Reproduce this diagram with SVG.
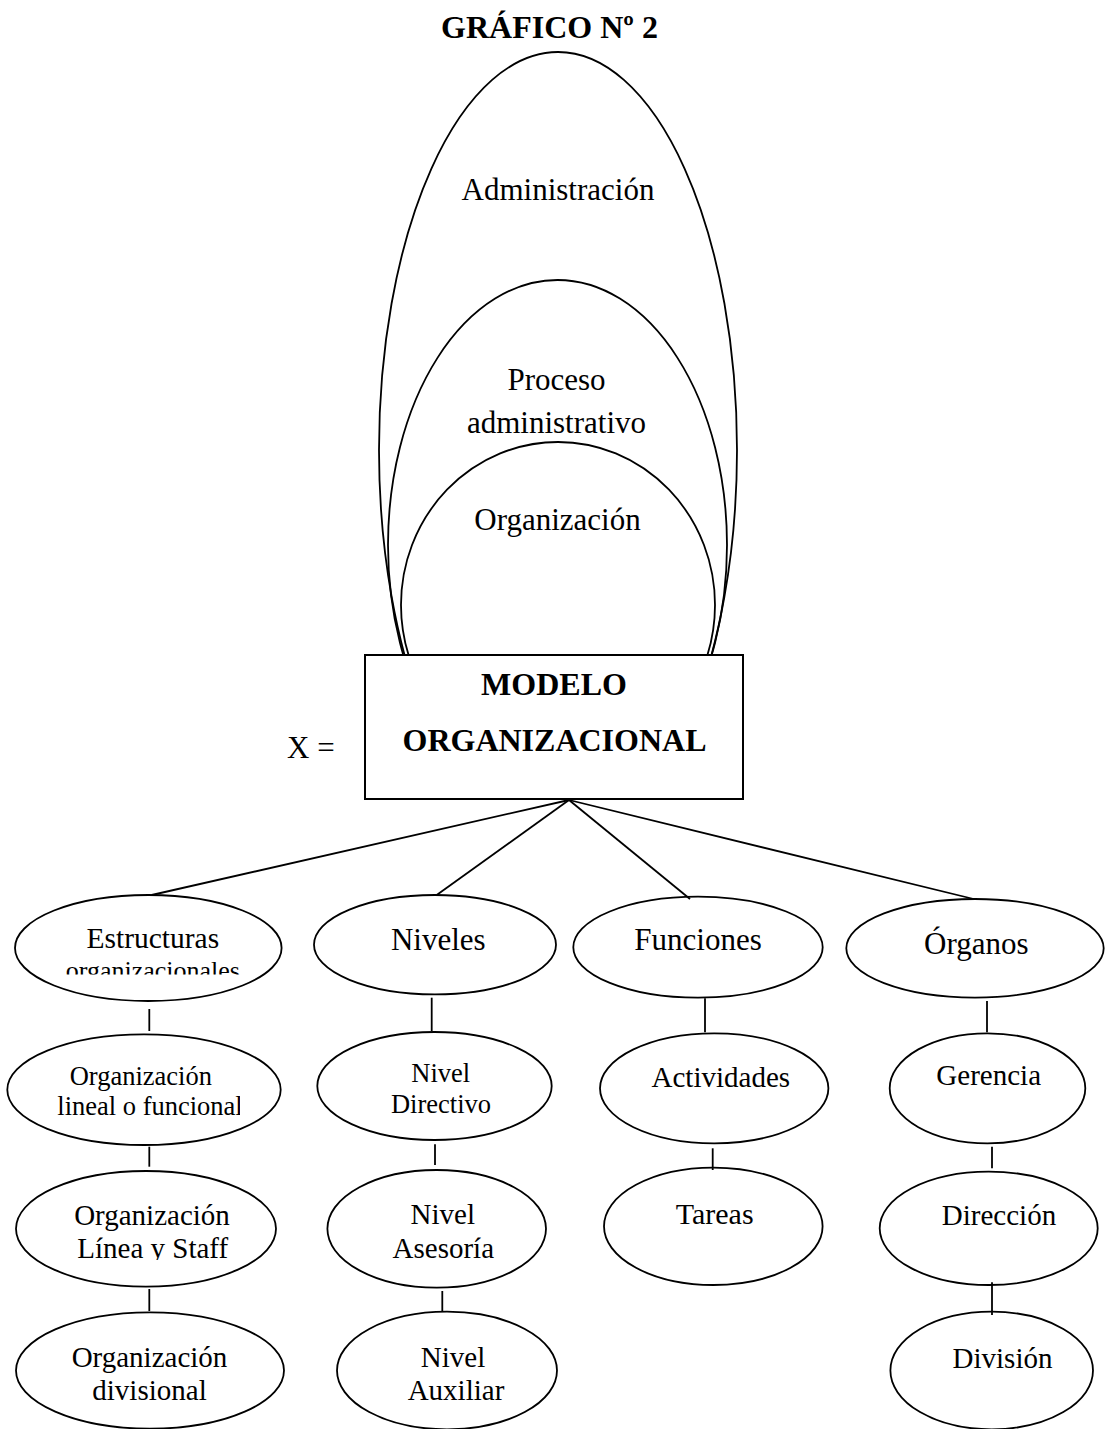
<svg xmlns="http://www.w3.org/2000/svg" width="1107" height="1429" viewBox="0 0 1107 1429">
  <style>
    text { font-family: "Liberation Serif", "Times New Roman", serif; fill: #000; text-anchor: middle; }
    .b { font-weight: bold; font-size: 32px; }
    .t31 { font-size: 31px; }
    .t29 { font-size: 29px; }
    .t26 { font-size: 26.5px; }
    .shape { fill: none; stroke: #000; stroke-width: 1.8; }
    .conn line { stroke: #000; stroke-width: 1.8; }
  </style>
  <defs>
    <clipPath id="clipTop"><rect x="0" y="0" width="1107" height="655"/></clipPath>
    <clipPath id="clipEst"><rect x="0" y="900" width="300" height="74.5"/></clipPath>
    <clipPath id="clipLin"><rect x="0" y="1040" width="240" height="100"/></clipPath>
    <clipPath id="clipStaff"><rect x="0" y="1180" width="300" height="80"/></clipPath>
  </defs>
  <rect width="1107" height="1429" fill="#fff"/>

  <text id="title" class="b" x="549.5" y="38">GRÁFICO Nº 2</text>

  <g id="administracion">
    <ellipse class="shape" cx="558" cy="450" rx="179" ry="398" clip-path="url(#clipTop)"/>
    <text class="t31" x="558" y="200">Administración</text>
  </g>
  <g id="proceso-administrativo">
    <ellipse class="shape" cx="557.5" cy="545" rx="169.5" ry="265" clip-path="url(#clipTop)"/>
    <text class="t31" x="556.5" y="390">Proceso</text>
    <text class="t31" x="556.5" y="433">administrativo</text>
  </g>
  <g id="organizacion">
    <ellipse class="shape" cx="558" cy="605" rx="157" ry="163" clip-path="url(#clipTop)"/>
    <text class="t31" x="557.5" y="530">Organización</text>
  </g>

  <g id="modelo-organizacional">
    <rect x="365" y="655" width="378" height="144" fill="#fff" stroke="#000" stroke-width="2"/>
    <text class="b" x="554" y="695">MODELO</text>
    <text class="b" x="554.5" y="751">ORGANIZACIONAL</text>
  </g>
  <text id="x-eq" class="t31" x="287" y="758" style="text-anchor:start">X =</text>

  <g id="connectors" class="conn">
    <line x1="569" y1="800" x2="151.7" y2="895"/>
    <line x1="569" y1="800" x2="436.7" y2="895"/>
    <line x1="569" y1="800" x2="690" y2="899"/>
    <line x1="569" y1="800" x2="973.7" y2="899"/>
    <line x1="149.3" y1="1009" x2="149.3" y2="1031"/>
    <line x1="149.3" y1="1146.7" x2="149.3" y2="1166.7"/>
    <line x1="149.3" y1="1289" x2="149.3" y2="1311"/>
    <line x1="431.7" y1="997.7" x2="431.7" y2="1031"/>
    <line x1="435" y1="1144.3" x2="435" y2="1165"/>
    <line x1="442.3" y1="1291" x2="442.3" y2="1312"/>
    <line x1="705" y1="998.3" x2="705" y2="1032.3"/>
    <line x1="712.7" y1="1148.3" x2="712.7" y2="1170"/>
    <line x1="987" y1="1001" x2="987" y2="1032.3"/>
    <line x1="992" y1="1146.7" x2="992" y2="1168.3"/>
    <line x1="992" y1="1282.3" x2="992" y2="1315"/>
  </g>

  <g id="estructuras">
    <ellipse class="shape" cx="148.3" cy="948" rx="133.3" ry="53"/>
    <text x="152.8" y="947.7" style="font-size:29.5px">Estructuras</text>
    <text x="152.8" y="978.5" style="font-size:26px" clip-path="url(#clipEst)">organizacionales</text>
  </g>
  <g id="niveles">
    <ellipse class="shape" cx="435" cy="944.7" rx="121" ry="49.7"/>
    <text class="t31" x="438.3" y="950">Niveles</text>
  </g>
  <g id="funciones">
    <ellipse class="shape" cx="698" cy="947.2" rx="124.7" ry="50.5"/>
    <text class="t31" x="698" y="950">Funciones</text>
  </g>
  <g id="organos">
    <ellipse class="shape" cx="975" cy="948.3" rx="128.7" ry="49.3"/>
    <text class="t31" x="976.3" y="954.3">Órganos</text>
  </g>

  <g id="org-lineal">
    <ellipse class="shape" cx="144" cy="1089.7" rx="136.7" ry="55.3"/>
    <text class="t26" x="140.8" y="1085">Organización</text>
    <text class="t26" x="150" y="1115" clip-path="url(#clipLin)">lineal o funcional</text>
  </g>
  <g id="nivel-directivo">
    <ellipse class="shape" cx="434.5" cy="1086" rx="117.2" ry="54"/>
    <text class="t26" x="440.8" y="1082.3">Nivel</text>
    <text class="t26" x="441" y="1113.3">Directivo</text>
  </g>
  <g id="actividades">
    <ellipse class="shape" cx="714.2" cy="1088.3" rx="114.2" ry="55"/>
    <text class="t29" x="720.8" y="1086.7">Actividades</text>
  </g>
  <g id="gerencia">
    <ellipse class="shape" cx="987.5" cy="1088.3" rx="97.8" ry="55"/>
    <text class="t29" x="988.7" y="1085">Gerencia</text>
  </g>

  <g id="org-linea-staff">
    <ellipse class="shape" cx="146" cy="1228.8" rx="130" ry="57.8"/>
    <text class="t29" x="152" y="1225">Organización</text>
    <text class="t29" x="152.7" y="1257.7" clip-path="url(#clipStaff)">Línea y Staff</text>
  </g>
  <g id="nivel-asesoria">
    <ellipse class="shape" cx="436.7" cy="1228.8" rx="109.3" ry="58.8"/>
    <text class="t29" x="442.8" y="1224.3">Nivel</text>
    <text class="t29" x="443.3" y="1257.7">Asesoría</text>
  </g>
  <g id="tareas">
    <ellipse class="shape" cx="713.3" cy="1226.3" rx="109.3" ry="58.7"/>
    <text x="714.7" y="1224.3" style="font-size:30px">Tareas</text>
  </g>
  <g id="direccion">
    <ellipse class="shape" cx="988.7" cy="1228.3" rx="109" ry="56.7"/>
    <text class="t29" x="999" y="1225">Dirección</text>
  </g>

  <g id="org-divisional">
    <ellipse class="shape" cx="150" cy="1370.5" rx="134" ry="58.2"/>
    <text class="t29" x="149.5" y="1366.7">Organización</text>
    <text class="t29" x="149.5" y="1400">divisional</text>
  </g>
  <g id="nivel-auxiliar">
    <ellipse class="shape" cx="447" cy="1370.5" rx="110" ry="58.8"/>
    <text class="t29" x="453" y="1366.7">Nivel</text>
    <text class="t29" x="456" y="1400">Auxiliar</text>
  </g>
  <g id="division">
    <ellipse class="shape" cx="991.7" cy="1370.5" rx="101.3" ry="58.8"/>
    <text class="t29" x="1002.5" y="1367.7">División</text>
  </g>
</svg>
